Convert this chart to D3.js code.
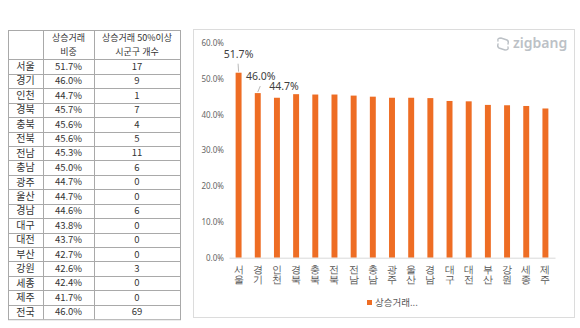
<!DOCTYPE html>
<html><head><meta charset="utf-8">
<script src="https://cdn.jsdelivr.net/npm/d3@7"></script>
<style>
html,body{margin:0;padding:0;background:#fff;}
svg{display:block;font-family:"Noto Sans CJK KR","Noto Sans",sans-serif;}
</style></head>
<body>
<svg id="c" width="580" height="328"></svg>
<script>
const regions = ["서울","경기","인천","경북","충북","전북","전남","충남","광주","울산","경남","대구","대전","부산","강원","세종","제주"];
const shares = [51.7,46.0,44.7,45.7,45.6,45.6,45.3,45.0,44.7,44.7,44.6,43.8,43.7,42.7,42.6,42.4,41.7];
const counts = [17,9,1,7,4,5,11,6,0,0,6,0,0,0,3,0,0];
const totalRow = ["전국","46.0%","69"];
const headerCol2 = ["상승거래","비중"];
const headerCol3 = ["상승거래 50%이상","시군구 개수"];
const yTicks = [0,10,20,30,40,50,60];
const labeled = [0,1,2];
const legendLabel = "상승거래...";
const barColor = "#ee6d24";

const svg = d3.select("#c");

// ---------- Table ----------
const tX = [8, 43, 94, 180];
const tTop = 30, headH = 29.3, rowH = 14.44;
const rows = regions.map((r,i)=>[r, shares[i].toFixed(1)+"%", String(counts[i])]).concat([totalRow]);
const tBottom = tTop + headH + rows.length*rowH;
const tg = svg.append("g");
const lineC = "#a9a9a9";
tg.append("rect").attr("x",tX[0]+0.5).attr("y",tTop+0.5).attr("width",tX[3]-tX[0]).attr("height",tBottom-tTop)
  .attr("fill","none").attr("stroke",lineC);
[tX[1],tX[2]].forEach(x=>tg.append("line").attr("x1",x+0.5).attr("x2",x+0.5).attr("y1",tTop).attr("y2",tBottom).attr("stroke",lineC));
for(let i=0;i<rows.length;i++){
  const y = Math.round(tTop+headH+i*rowH)+0.5;
  tg.append("line").attr("x1",tX[0]).attr("x2",tX[3]).attr("y1",y).attr("y2",y).attr("stroke",lineC);
}
const cx = [(tX[0]+tX[1])/2,(tX[1]+tX[2])/2,(tX[2]+tX[3])/2];
headerCol2.forEach((t,k)=>tg.append("text").attr("x",cx[1]).attr("y",tTop+7.5+k*14.5).attr("dy","0.35em")
  .attr("text-anchor","middle").attr("font-size",9).attr("fill","#333").text(t));
headerCol3.forEach((t,k)=>tg.append("text").attr("x",cx[2]).attr("y",tTop+7.5+k*14.5).attr("dy","0.35em")
  .attr("text-anchor","middle").attr("font-size",9).attr("fill","#333").text(t));
rows.forEach((r,i)=>{
  const y = tTop+headH+i*rowH+rowH/2;
  r.forEach((v,j)=>tg.append("text").attr("x",cx[j]).attr("y",y).attr("dy","0.35em")
    .attr("text-anchor","middle").attr("font-size",j===0?10:9.5).attr("fill","#333").text(v));
});

// ---------- Chart panel ----------
svg.append("rect").attr("x",193.5).attr("y",29.5).attr("width",381).attr("height",288)
  .attr("fill","#fff").attr("stroke","#dcdcdc");

const x = d3.scaleBand().domain(regions).range([229,555]).paddingInner(0.69).paddingOuter(0.345);
const y = d3.scaleLinear().domain([0,60]).range([257.7,43]);

const yAxis = svg.append("g").attr("transform","translate(224,0)")
  .call(d3.axisLeft(y).tickValues(yTicks).tickSize(0).tickPadding(0).tickFormat(d=>d.toFixed(1)+"%"));
yAxis.select(".domain").remove();
yAxis.selectAll("text").attr("font-size",8).attr("fill","#666").attr("font-family","'Noto Sans','Noto Sans CJK KR',sans-serif");

svg.selectAll("rect.bar").data(regions).enter().append("rect").attr("class","bar")
  .attr("x",d=>x(d)).attr("width",x.bandwidth())
  .attr("y",(d,i)=>y(shares[i])).attr("height",(d,i)=>y(0)-y(shares[i]))
  .attr("fill",barColor);

const xAxis = svg.append("g").attr("transform",`translate(0,${y(0)})`)
  .call(d3.axisBottom(x).tickSize(0).tickFormat(""));
xAxis.select(".domain").attr("stroke","#d9d9d9");
xAxis.selectAll(".tick").each(function(d){
  const g = d3.select(this);
  [...d].forEach((ch,k)=>g.append("text").attr("x",0).attr("y",11.5+k*10.5).attr("dy","0.35em")
    .attr("text-anchor","middle").attr("font-size",10).attr("fill","#555").text(ch));
});

// data labels with leader lines
const labOff = [[0,-15],[3,-13],[7,-8]];
labeled.forEach((i,k)=>{
  const bx = x(regions[i])+x.bandwidth()/2, by = y(shares[i]);
  const lx = bx+labOff[k][0], ly = by+labOff[k][1];
  if(k<2){
    svg.append("line").attr("x1",bx).attr("y1",by-1).attr("x2",lx-0.5).attr("y2",ly+6)
      .attr("stroke","#a6a6a6").attr("stroke-width",0.8);
  }
  svg.append("text").attr("x",lx).attr("y",ly).attr("text-anchor","middle")
    .attr("font-size",10.5).attr("fill","#404040").attr("font-family","'Noto Sans','Noto Sans CJK KR',sans-serif")
    .text(shares[i].toFixed(1)+"%");
});

// legend
svg.append("rect").attr("x",367).attr("y",300).attr("width",5).attr("height",5).attr("fill",barColor);
svg.append("text").attr("x",375).attr("y",303).attr("dy","0.35em").attr("font-size",9.5).attr("fill","#595959").text(legendLabel);

// zigbang logo
const lg = svg.append("g").attr("transform","translate(503,44)");
lg.append("path").attr("d","M-5,-3 Q-6,-6 -2,-6 L4,-4 Q6,-3 5,0 M5,3 Q6,6 2,6 L-4,4 Q-6,3 -5,0")
  .attr("fill","none").attr("stroke","#bcc1c6").attr("stroke-width",1.4).attr("stroke-linecap","round");
lg.append("text").attr("x",10).attr("y",0).attr("dy","0.32em").attr("font-size",14).attr("font-weight",600)
  .attr("fill","#bcc1c6").attr("font-family","'Noto Sans',Inter,sans-serif").text("zigbang");
</script>
</body></html>
